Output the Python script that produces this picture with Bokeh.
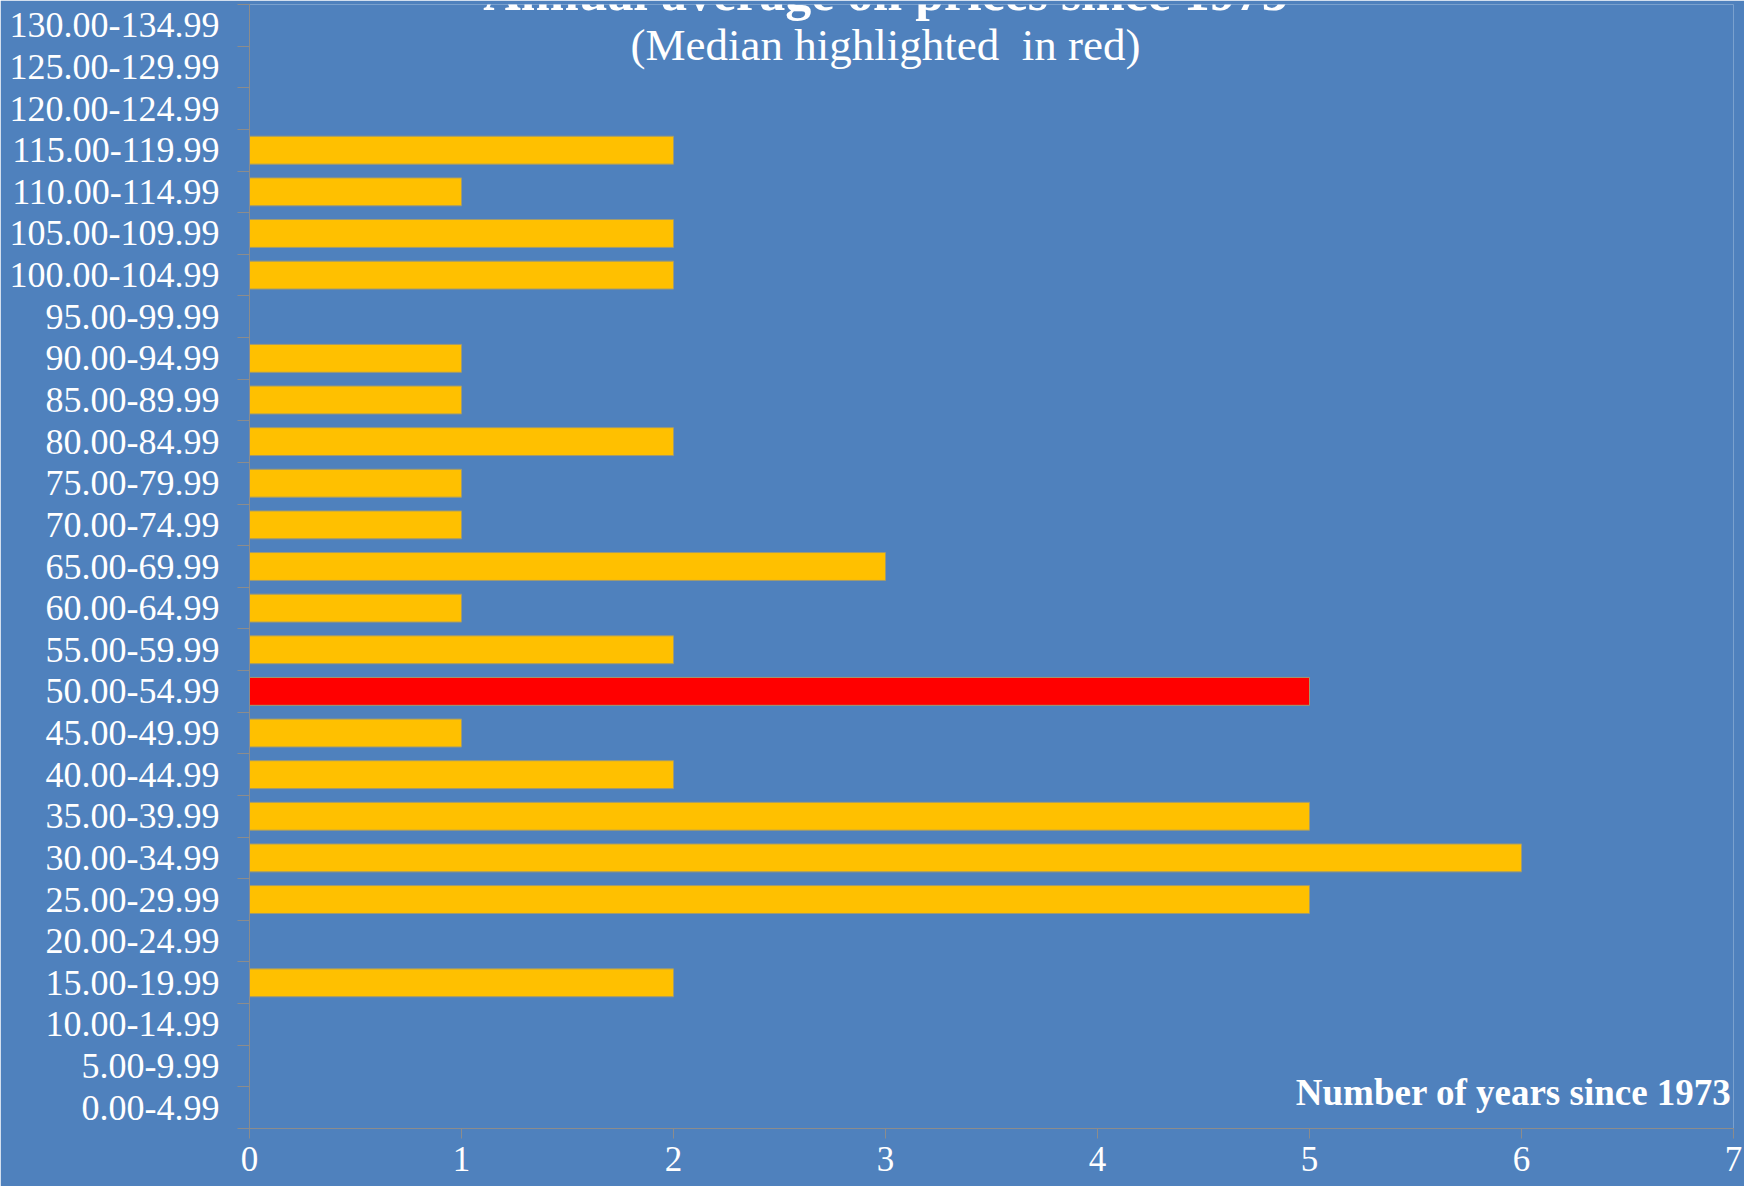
from bokeh.plotting import figure
from bokeh.models import ColumnDataSource, FixedTicker, Range1d, Label
from bokeh.embed import file_html
from bokeh.resources import INLINE

# ---- data (bottom to top) ----
price_bins = [
    "0.00-4.99", "5.00-9.99", "10.00-14.99", "15.00-19.99", "20.00-24.99",
    "25.00-29.99", "30.00-34.99", "35.00-39.99", "40.00-44.99", "45.00-49.99",
    "50.00-54.99", "55.00-59.99", "60.00-64.99", "65.00-69.99", "70.00-74.99",
    "75.00-79.99", "80.00-84.99", "85.00-89.99", "90.00-94.99", "95.00-99.99",
    "100.00-104.99", "105.00-109.99", "110.00-114.99", "115.00-119.99",
    "120.00-124.99", "125.00-129.99", "130.00-134.99",
]
year_counts = [0, 0, 0, 2, 0, 5, 6, 5, 2, 1, 5, 2, 1, 3, 1, 1, 2, 1, 1, 0, 2, 2, 1, 2, 0, 0, 0]
median_bin = "50.00-54.99"
x_ticks = [0, 1, 2, 3, 4, 5, 6, 7]

title_text = "Annual average oil prices since 1973"
subtitle_text = "(Median highlighted\u00a0 in red)"
x_title = "Number of years since 1973"

BG = "#4F81BD"
BAR = "#FFC000"
MED = "#FF0000"
AXIS = "#8c8c8c"
FONT = "Liberation Serif"

n = len(price_bins)
centers = [i + 0.5 for i in range(n)]
colors = [MED if b == median_bin else BAR for b in price_bins]

src = ColumnDataSource(dict(y=centers, count=year_counts, color=colors, label=price_bins))

p = figure(width=1744, height=1186, output_backend="svg", toolbar_location=None,
           x_range=Range1d(0, 7), y_range=Range1d(0, n),
           min_border_left=249, min_border_right=11, min_border_top=4, min_border_bottom=58)
p.background_fill_color = BG
p.border_fill_color = BG
p.outline_line_color = None
p.grid.visible = False

p.hbar(y="y", left=0, right="count", height=0.67, fill_color="color",
       line_color="#a09a70", line_width=1, source=src)

# y axis: labels at centers, ticks at category boundaries
ya = p.yaxis[0]
ya.ticker = FixedTicker(ticks=centers, minor_ticks=list(range(n + 1)))
ya.major_label_overrides = {c: b for c, b in zip(centers, price_bins)}
ya.major_tick_out = 0
ya.major_tick_in = 0
ya.minor_tick_out = 12
ya.minor_tick_in = 0
ya.minor_tick_line_color = AXIS
ya.axis_line_color = AXIS
ya.major_label_standoff = 18
ya.major_label_text_font = FONT
ya.major_label_text_font_size = "36px"
ya.major_label_text_color = "white"

# x axis
xa = p.xaxis[0]
xa.ticker = FixedTicker(ticks=x_ticks, minor_ticks=[])
xa.major_tick_out = 10
xa.major_tick_in = 0
xa.major_tick_line_color = AXIS
xa.axis_line_color = AXIS
xa.major_label_standoff = 8
xa.major_label_text_font = FONT
xa.major_label_text_font_size = "35px"
xa.major_label_text_color = "white"

p.add_layout(Label(x=7, y=0.865, x_offset=-2, text=x_title, text_align="right",
                   text_baseline="alphabetic", text_color="white", text_font=FONT,
                   text_font_style="bold", text_font_size="37px"))

p.add_layout(Label(x=3.0, y=26.03, text=subtitle_text, text_align="center",
                   text_baseline="alphabetic", text_color="white", text_font=FONT,
                   text_font_size="45px"))
p.add_layout(Label(x=3.0, y=27.3, text=title_text, text_align="center",
                   text_baseline="alphabetic", text_color="white", text_font=FONT,
                   text_font_style="bold", text_font_size="52px"))

open("out.html", "w").write(file_html(p, INLINE))
